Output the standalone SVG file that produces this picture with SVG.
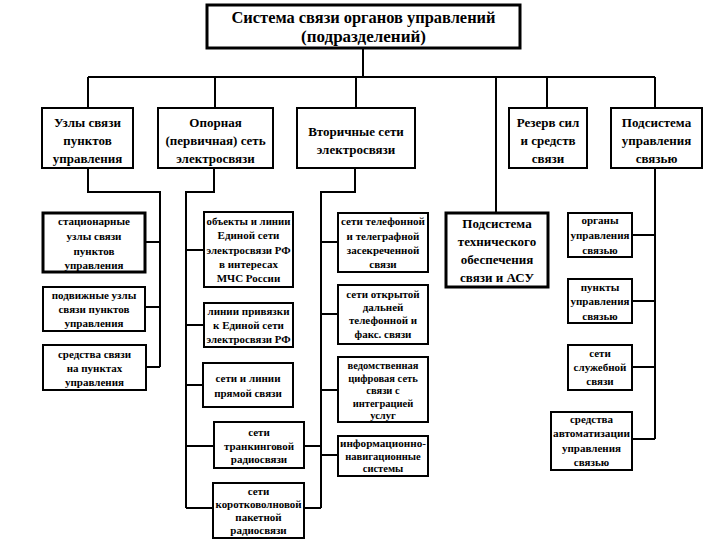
<svg xmlns="http://www.w3.org/2000/svg" width="720" height="540" viewBox="0 0 720 540">
<style>
.box{fill:#fff;stroke:#000;stroke-width:2}
.thick{stroke-width:3}
.t{font-family:"Liberation Serif","Times New Roman",serif;font-weight:bold;text-anchor:middle;fill:#000}
.h1{font-size:17px}
.h2{font-size:13px}
.h3{font-size:11px}
.h4{font-size:10.5px}
.ln{stroke:#000;stroke-width:2;fill:none}
</style>
<rect width="720" height="540" fill="#fff"/>
<g id="connectors">
<path class="ln" d="M363 48V77M88 77H655M88 77V108M215 77V108M356 77V108M496 77V213M547 77V108M655 77V108"/>
<path class="ln" d="M88 168V192H160V367M145 242H160M145 307H160M146 367H160"/>
<path class="ln" d="M214 168V192H186V508M186 250H204M186 325H204M186 385H203M186 446H214M186 508H213"/>
<path class="ln" d="M355 168V192H321V508M321 242H338M321 314H338M321 390H338M321 455H338M304 446H321M304 508H321"/>
<path class="ln" d="M655 168V439M632 235H655M632 301H655M632 367H655M632 439H655"/>
</g>
<g id="root"><rect class="box thick" x="207" y="5" width="313" height="43"/>
<text class="t h1" x="363.5" y="23" textLength="264" lengthAdjust="spacingAndGlyphs">Система связи органов управлений</text>
<text class="t h1" x="363.5" y="42">(подразделений)</text></g>
<g id="uzly"><rect class="box" x="42" y="108" width="91" height="60"/>
<text class="t h2" x="87.5" y="127">Узлы связи</text><text class="t h2" x="87.5" y="145">пунктов</text><text class="t h2" x="87.5" y="163">управления</text></g>
<g id="oporn"><rect class="box" x="158" y="108" width="115" height="60"/>
<text class="t h2" x="215.5" y="127">Опорная</text><text class="t h2" x="215.5" y="145">(первичная) сеть</text><text class="t h2" x="215.5" y="163">электросвязи</text></g>
<g id="vtor"><rect class="box" x="297" y="108" width="118" height="60"/>
<text class="t h2" x="356" y="136">Вторичные сети</text><text class="t h2" x="356" y="154">электросвязи</text></g>
<g id="rezerv"><rect class="box" x="509" y="108" width="78" height="60"/>
<text class="t h2" x="548" y="127">Резерв сил</text><text class="t h2" x="548" y="145">и средств</text><text class="t h2" x="548" y="163">связи</text></g>
<g id="podupr"><rect class="box" x="611" y="108" width="91" height="60"/>
<text class="t h2" x="656.5" y="127">Подсистема</text><text class="t h2" x="656.5" y="145">управления</text><text class="t h2" x="656.5" y="163">связью</text></g>
<g id="teh"><rect class="box thick" x="446" y="213" width="102" height="74"/>
<text class="t h2" x="497" y="228">Подсистема</text><text class="t h2" x="497" y="246">технического</text><text class="t h2" x="497" y="264">обеспечения</text><text class="t h2" x="497" y="282">связи и АСУ</text></g>
<g id="s1"><rect class="box thick" x="43" y="213" width="102" height="59"/>
<text class="t h3" x="94" y="225">стационарные</text><text class="t h3" x="94" y="240">узлы связи</text><text class="t h3" x="94" y="255">пунктов</text><text class="t h3" x="94" y="269">управления</text></g>
<g id="s2"><rect class="box" x="43" y="287" width="102" height="44"/>
<text class="t h3" x="94" y="299">подвижные узлы</text><text class="t h3" x="94" y="313">связи пунктов</text><text class="t h3" x="94" y="327">управления</text></g>
<g id="s3"><rect class="box" x="43" y="345" width="103" height="45"/>
<text class="t h3" x="94.5" y="358">средства связи</text><text class="t h3" x="94.5" y="372">на пунктах</text><text class="t h3" x="94.5" y="386">управления</text></g>
<g id="p1"><rect class="box" x="204" y="212" width="89" height="75"/>
<text class="t h3" x="248.5" y="225" textLength="84" lengthAdjust="spacingAndGlyphs">объекты и линии</text><text class="t h3" x="248.5" y="239">Единой сети</text><text class="t h3" x="248.5" y="254" textLength="84" lengthAdjust="spacingAndGlyphs">электросвязи РФ</text><text class="t h3" x="248.5" y="268">в интересах</text><text class="t h3" x="248.5" y="282">МЧС России</text></g>
<g id="p2"><rect class="box" x="204" y="303" width="89" height="44"/>
<text class="t h3" x="248.5" y="315" textLength="82" lengthAdjust="spacingAndGlyphs">линии привязки</text><text class="t h3" x="248.5" y="329">к Единой сети</text><text class="t h3" x="248.5" y="343" textLength="84" lengthAdjust="spacingAndGlyphs">электросвязи РФ</text></g>
<g id="p3"><rect class="box" x="203" y="363" width="90" height="44"/>
<text class="t h3" x="248" y="382">сети и линии</text><text class="t h3" x="248" y="397">прямой связи</text></g>
<g id="p4"><rect class="box" x="214" y="422" width="90" height="46"/>
<text class="t h3" x="259" y="436">сети</text><text class="t h3" x="259" y="450">транкинговой</text><text class="t h3" x="259" y="463">радиосвязи</text></g>
<g id="p5"><rect class="box" x="213" y="483" width="91" height="55"/>
<text class="t h3" x="258.5" y="495">сети</text><text class="t h3" x="258.5" y="508" textLength="86" lengthAdjust="spacingAndGlyphs">коротковолновой</text><text class="t h3" x="258.5" y="521">пакетной</text><text class="t h3" x="258.5" y="534">радиосвязи</text></g>
<g id="q1"><rect class="box" x="338" y="213" width="90" height="59"/>
<text class="t h3" x="383" y="225" textLength="84" lengthAdjust="spacingAndGlyphs">сети телефонной</text><text class="t h3" x="383" y="240">и телеграфной</text><text class="t h3" x="383" y="254">засекреченной</text><text class="t h3" x="383" y="268">связи</text></g>
<g id="q2"><rect class="box" x="338" y="285" width="90" height="59"/>
<text class="t h3" x="383" y="298">сети открытой</text><text class="t h3" x="383" y="311">дальней</text><text class="t h3" x="383" y="324">телефонной и</text><text class="t h3" x="383" y="338">факс. связи</text></g>
<g id="q3"><rect class="box" x="338" y="357" width="90" height="65"/>
<text class="t h4" x="383" y="369">ведомственная</text><text class="t h4" x="383" y="381.5">цифровая сеть</text><text class="t h4" x="383" y="394">связи с</text><text class="t h4" x="383" y="406.5">интеграцией</text><text class="t h4" x="383" y="419">услуг</text></g>
<g id="q4"><rect class="box" x="338" y="436" width="90" height="40"/>
<text class="t h4" x="383" y="447" textLength="86" lengthAdjust="spacingAndGlyphs">информационно-</text><text class="t h4" x="383" y="459.5">навигационные</text><text class="t h4" x="383" y="472">системы</text></g>
<g id="r1"><rect class="box" x="568" y="213" width="64" height="44"/>
<text class="t h3" x="600" y="224">органы</text><text class="t h3" x="600" y="239">управления</text><text class="t h3" x="600" y="254">связью</text></g>
<g id="r2"><rect class="box" x="568" y="279" width="64" height="44"/>
<text class="t h3" x="600" y="291">пункты</text><text class="t h3" x="600" y="305">управления</text><text class="t h3" x="600" y="320">связью</text></g>
<g id="r3"><rect class="box" x="568" y="345" width="64" height="45"/>
<text class="t h3" x="600" y="357">сети</text><text class="t h3" x="600" y="371">служебной</text><text class="t h3" x="600" y="385">связи</text></g>
<g id="r4"><rect class="box" x="551" y="412" width="81" height="58"/>
<text class="t h3" x="591.5" y="423">средства</text><text class="t h3" x="591.5" y="437" textLength="77" lengthAdjust="spacingAndGlyphs">автоматизации</text><text class="t h3" x="591.5" y="452">управления</text><text class="t h3" x="591.5" y="466">связью</text></g>
</svg>
